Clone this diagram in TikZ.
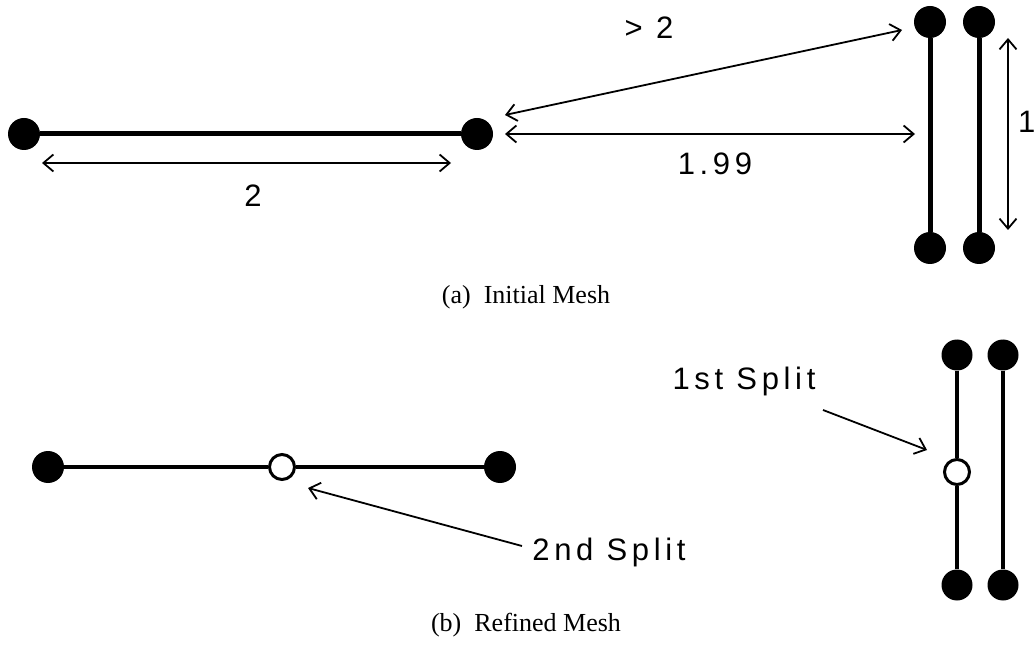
\documentclass[tikz,border=0pt]{standalone}
\usepackage{fontspec}
\setmainfont{Liberation Serif}
\newfontfamily\lblfont[LetterSpace=15]{Liberation Sans}
\usetikzlibrary{arrows.meta}
\tikzset{
  dot/.style={circle,fill=black,minimum size=32pt,inner sep=0pt},
  hole/.style={circle,draw=black,fill=white,line width=3pt,minimum size=25pt,inner sep=0pt},
  bar/.style={line width=5pt},
  dim/.style={line width=1.8pt,{Straight Barb[length=10pt,width=17pt]}-{Straight Barb[length=10pt,width=17pt]}},
  ptr/.style={line width=1.8pt,-{Straight Barb[length=10pt,width=17pt]}},
  lbl/.style={font=\lblfont\fontsize{31}{36}\selectfont,inner sep=0pt},
  capt/.style={font=\fontsize{26}{31}\selectfont,inner sep=0pt}
}
\begin{document}
\begin{tikzpicture}[x=1pt,y=-1pt]
\useasboundingbox (0,0) rectangle (1034,652);
% ---------- (a) Initial mesh ----------
\node[dot] (L1) at (24,134) {};
\node[dot] (L2) at (477,134) {};
\draw[bar] (L1) -- (L2);
\node[dot] (R1t) at (930,22) {};
\node[dot] (R2t) at (979,22) {};
\node[dot] (R1b) at (930,248) {};
\node[dot] (R2b) at (979,248) {};
\draw[bar] (R1t) -- (R1b);
\draw[bar] (R2t) -- (R2b);
% dimensions
\coordinate (d2a) at (42,163);
\coordinate (d2b) at (451,163);
\draw[dim] (d2a) -- (d2b);
\node[lbl] (t2) at (253,196) {2};
\coordinate (d199a) at (505,134);
\coordinate (d199b) at (915,134);
\draw[dim] (d199a) -- (d199b);
\node[lbl] (t199) at (715,164) {1.99};
\coordinate (dga) at (505,115);
\coordinate (dgb) at (902,30);
\draw[dim] (dga) -- (dgb);
\node[lbl] (tg) at (649,28) {> 2};
\coordinate (d1a) at (1008,38);
\coordinate (d1b) at (1008,230);
\draw[dim] (d1a) -- (d1b);
\node[lbl,anchor=west] (t1) at (1018,122) {1};
\node[capt] (capa) at (526,297) {(a)\ \ Initial Mesh};
% ---------- (b) Refined mesh ----------
\node[dot] (B1) at (48,467) {};
\node[dot] (B2) at (500,467) {};
\node[hole] (O1) at (282,467) {};
\draw[bar,line width=4.5pt] (B1) -- (O1);
\draw[bar,line width=4.5pt] (O1) -- (B2);
\node[dot,minimum size=31pt] (S1t) at (957,355) {};
\node[dot,minimum size=31pt] (S2t) at (1003,355) {};
\node[dot,minimum size=31pt] (S1b) at (957,585) {};
\node[dot,minimum size=31pt] (S2b) at (1003,585) {};
\node[hole] (O2) at (957,472) {};
\draw[bar,line width=4.5pt] (S1t) -- (O2);
\draw[bar,line width=4.5pt] (O2) -- (S1b);
\draw[bar,line width=4.5pt] (S2t) -- (S2b);
% labels
\node[lbl] (sp2) at (609,552) {2nd Split};
\coordinate (sp2tail) at (522,546);
\coordinate (sp2tip) at (308,488);
\draw[ptr] (sp2tail) -- (sp2tip);
\node[lbl] (sp1) at (744,381) {1st Split};
\coordinate (sp1tail) at (823,410);
\coordinate (sp1tip) at (927,450);
\draw[ptr] (sp1tail) -- (sp1tip);
\node[capt] (capb) at (526,625) {(b)\ \ Refined Mesh};
\end{tikzpicture}
\end{document}
